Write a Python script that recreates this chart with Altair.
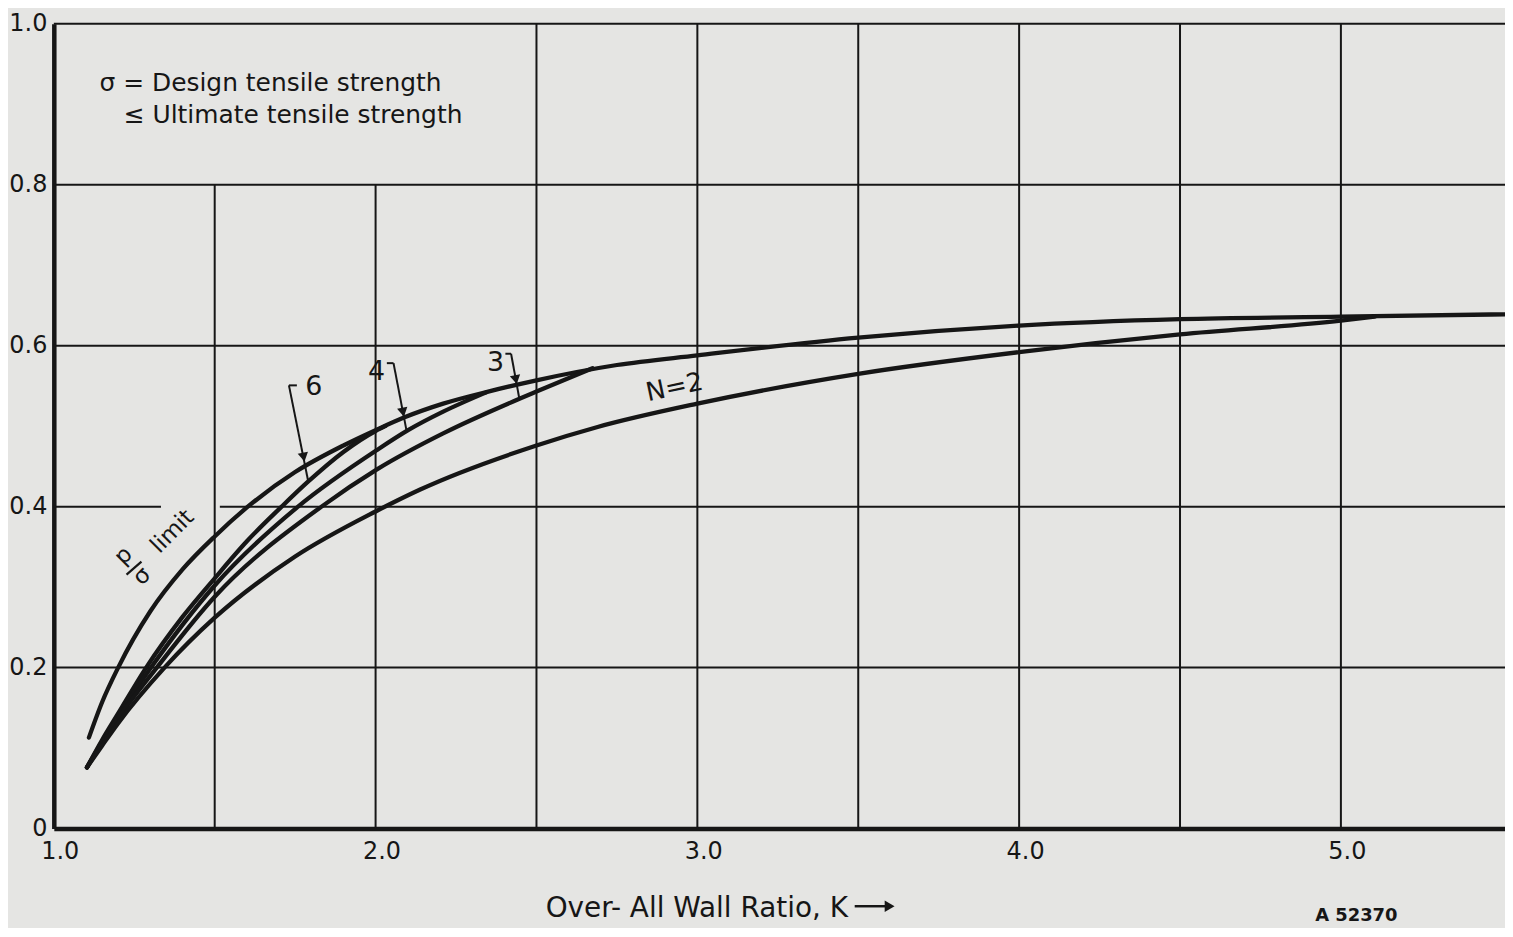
import altair as alt
import pandas as pd

# ---------------- values ----------------
# p/sigma limit curve (upper envelope)
K_LIMIT = [1.109, 1.15, 1.2, 1.3, 1.4, 1.5, 1.6, 1.75, 1.9, 2.0, 2.09, 2.21, 2.35,
           2.5, 2.75, 3.0, 3.5, 4.0, 4.5, 5.0, 5.51]
P_LIMIT = [0.113, 0.157, 0.200, 0.270, 0.322, 0.363, 0.399, 0.443, 0.476, 0.495, 0.511,
           0.528, 0.543, 0.557, 0.576, 0.588, 0.610, 0.625, 0.633, 0.636, 0.639]

# N = 6
K_N6 = [1.103, 1.15, 1.2, 1.287, 1.4, 1.5, 1.6, 1.708, 1.79, 1.9, 2.0, 2.03]
P_N6 = [0.076, 0.110, 0.143, 0.200, 0.263, 0.311, 0.357, 0.400, 0.431, 0.468, 0.494, 0.500]

# N = 4
K_N4 = [1.103, 1.15, 1.2, 1.302, 1.5, 1.759, 2.003, 2.101, 2.21, 2.344]
P_N4 = [0.076, 0.108, 0.140, 0.200, 0.302, 0.400, 0.470, 0.495, 0.518, 0.542]

# N = 3
K_N3 = [1.103, 1.15, 1.2, 1.32, 1.5, 1.832, 2.003, 2.21, 2.447, 2.5, 2.674]
P_N3 = [0.076, 0.106, 0.137, 0.200, 0.288, 0.400, 0.446, 0.491, 0.534, 0.543, 0.572]

# N = 2
K_N2 = [1.103, 1.15, 1.2, 1.344, 1.5, 1.75, 2.0, 2.137, 2.5, 2.69, 3.0, 3.5, 4.0,
        4.5, 5.0, 5.105]
P_N2 = [0.076, 0.103, 0.131, 0.200, 0.262, 0.338, 0.394, 0.421, 0.476, 0.499, 0.528,
        0.565, 0.592, 0.614, 0.631, 0.636]

# tick values
X_TICKS = [1, 2, 3, 4, 5]
Y_TICKS = [0, 0.2, 0.4, 0.6, 0.8, 1.0]

# grid: vertical lines (K) with their top end, horizontal segments (P, from, to)
GRID_K = [1.5, 2.0, 2.5, 3.0, 3.5, 4.0, 4.5, 5.0]
GRID_K_TOP = [0.8, 0.8, 1.0, 1.0, 1.0, 1.0, 1.0, 1.0]
GRID_P = [0.2, 0.4, 0.4, 0.6, 0.8, 1.0]
GRID_P_FROM = [1.0, 1.0, 1.516, 1.0, 1.0, 1.0]
GRID_P_TO = [5.51, 1.333, 5.51, 5.51, 5.51, 5.51]

# curve labels
CURVE_LABELS = ["6", "4", "3"]
CURVE_LABEL_K = [1.808, 2.003, 2.373]
CURVE_LABEL_P = [0.5486, 0.567, 0.5786]
N2_LABEL = ["N=2"]
N2_LABEL_K = [2.929]
N2_LABEL_P = [0.548]

# leader arrows for 6, 4, 3: shaft (top -> bottom), stub end, arrowhead centre
ARROW_K0 = [1.7307, 2.0557, 2.4211]
ARROW_P0 = [0.5507, 0.5783, 0.5900]
ARROW_K1 = [1.7904, 2.0969, 2.4467]
ARROW_P1 = [0.4319, 0.4929, 0.5343]
STUB_K = [1.7554, 2.0350, 2.4034]
HEAD_K = [1.7765, 2.0854, 2.4359]
HEAD_P = [0.4615, 0.5173, 0.5579]

# "p/sigma limit" label
PS_TEXT = ["p", "σ", "limit"]
PS_K = [1.2167, 1.2740, 1.3684]
PS_P = [0.3391, 0.3137, 0.3692]
PS_BAR_K = [1.2260, 1.2724]
PS_BAR_P = [0.3156, 0.3317]

# note block
NOTE_TEXT = ["σ = Design tensile strength", "≤ Ultimate tensile strength"]
NOTE_K = [1.142, 1.217]
NOTE_P = [0.9167, 0.8766]

# axis title and drawing number
TITLE_TEXT = ["Over- All Wall Ratio, K"]
TITLE_K = [2.5285]
TITLE_P = [-0.1101]
TITLE_ARROW_K = [3.489, 3.585]
TITLE_ARROW_HEAD_K = [3.5975]
TITLE_ARROW_P = [-0.0965]
DRAWING_NO = ["A 52370"]
DRAWING_NO_K = [5.048]
DRAWING_NO_P = [-0.1150]

# ---------------- styling ----------------
FONT = "DejaVu Sans"
INK = "#161616"
PAPER = "#e5e5e3"
X_DOMAIN = [1.0, 5.51]
Y_DOMAIN = [0.0, 1.0]

xs = alt.Scale(domain=X_DOMAIN, nice=False, zero=False)
ys = alt.Scale(domain=Y_DOMAIN, nice=False, zero=False)

x_axis = alt.Axis(values=X_TICKS, format=".1f", title=None, grid=False, ticks=False,
                  domain=True, domainWidth=4.5, domainColor=INK, labelFont=FONT,
                  labelFontSize=24, labelColor=INK, labelPadding=11, labelOffset=6,
                  labelFlush=False)
y_axis = alt.Axis(values=Y_TICKS,
                  labelExpr="datum.value == 0 ? '0' : format(datum.value, '.1f')",
                  title=None, grid=False, ticks=False, domain=True, domainWidth=4.5,
                  domainColor=INK, labelFont=FONT, labelFontSize=24, labelColor=INK,
                  labelPadding=7, labelFlush=False)


def xq(field):
    return alt.X(field, type="quantitative", scale=xs, axis=x_axis)


def yq(field):
    return alt.Y(field, type="quantitative", scale=ys, axis=y_axis)


# ---------------- tables ----------------
rows = []
for name, ks, ps in [("limit", K_LIMIT, P_LIMIT), ("6", K_N6, P_N6), ("4", K_N4, P_N4),
                     ("3", K_N3, P_N3), ("2", K_N2, P_N2)]:
    for i, (k, p) in enumerate(zip(ks, ps)):
        rows.append({"curve": name, "i": i, "K": k, "P": p})
curve_df = pd.DataFrame(rows)

vgrid_df = pd.DataFrame({"K": GRID_K, "top": GRID_K_TOP, "bottom": [0.0] * len(GRID_K)})
hgrid_df = pd.DataFrame({"P": GRID_P, "k0": GRID_P_FROM, "k1": GRID_P_TO})

vgrid = alt.Chart(vgrid_df).mark_rule(color=INK, strokeWidth=2).encode(
    x=xq("K"), y=yq("bottom"), y2="top:Q")
hgrid = alt.Chart(hgrid_df).mark_rule(color=INK, strokeWidth=2).encode(
    y=yq("P"), x=xq("k0"), x2="k1:Q")

curves = alt.Chart(curve_df).mark_line(
    color=INK, strokeWidth=4.3, interpolate="monotone", strokeCap="round",
    strokeJoin="round").encode(
    x=xq("K"), y=yq("P"), detail="curve:N", order=alt.Order("i:Q"))

# curve labels
lab_df = pd.DataFrame({"t": CURVE_LABELS, "K": CURVE_LABEL_K, "P": CURVE_LABEL_P})
labels = alt.Chart(lab_df).mark_text(font=FONT, fontSize=27, color=INK, align="center",
                                     baseline="middle").encode(
    x=xq("K"), y=yq("P"), text="t:N")
n2_df = pd.DataFrame({"t": N2_LABEL, "K": N2_LABEL_K, "P": N2_LABEL_P})
n2 = alt.Chart(n2_df).mark_text(font=FONT, fontSize=26, color=INK, align="center",
                                baseline="middle", angle=348).encode(
    x=xq("K"), y=yq("P"), text="t:N")

arrow_df = pd.DataFrame({"k0": ARROW_K0, "p0": ARROW_P0, "k1": ARROW_K1, "p1": ARROW_P1,
                         "ks": STUB_K})
shafts = alt.Chart(arrow_df).mark_rule(color=INK, strokeWidth=2).encode(
    x=xq("k0"), y=yq("p0"), x2="k1:Q", y2="p1:Q")
stubs = alt.Chart(arrow_df).mark_rule(color=INK, strokeWidth=2).encode(
    x=xq("k0"), y=yq("p0"), x2="ks:Q")
head_df = pd.DataFrame({"K": HEAD_K, "P": HEAD_P})
heads = alt.Chart(head_df).mark_point(
    shape="triangle-down", filled=True, size=110, color=INK, opacity=1,
    angle=349).encode(x=xq("K"), y=yq("P"))

# p / sigma limit
ps_df = pd.DataFrame({"t": PS_TEXT, "K": PS_K, "P": PS_P})
ps = alt.Chart(ps_df).mark_text(font=FONT, fontSize=23, color=INK, align="center",
                                baseline="middle", angle=315).encode(
    x=xq("K"), y=yq("P"), text="t:N")
bar_df = pd.DataFrame({"k0": [PS_BAR_K[0]], "k1": [PS_BAR_K[1]],
                       "p0": [PS_BAR_P[0]], "p1": [PS_BAR_P[1]]})
ps_bar = alt.Chart(bar_df).mark_rule(color=INK, strokeWidth=2.2).encode(
    x=xq("k0"), y=yq("p0"), x2="k1:Q", y2="p1:Q")

# note block
note_df = pd.DataFrame({"t": NOTE_TEXT, "K": NOTE_K, "P": NOTE_P})
note = alt.Chart(note_df).mark_text(font=FONT, fontSize=25, color=INK, align="left",
                                    baseline="alphabetic").encode(
    x=xq("K"), y=yq("P"), text="t:N")

# axis title with arrow
title_df = pd.DataFrame({"t": TITLE_TEXT, "K": TITLE_K, "P": TITLE_P})
title = alt.Chart(title_df).mark_text(font=FONT, fontSize=28, color=INK, align="left",
                                      baseline="alphabetic").encode(
    x=xq("K"), y=yq("P"), text="t:N")
tarrow_df = pd.DataFrame({"k0": [TITLE_ARROW_K[0]], "k1": [TITLE_ARROW_K[1]],
                          "P": TITLE_ARROW_P})
tarrow = alt.Chart(tarrow_df).mark_rule(color=INK, strokeWidth=2.5).encode(
    x=xq("k0"), x2="k1:Q", y=yq("P"))
thead_df = pd.DataFrame({"K": TITLE_ARROW_HEAD_K, "P": TITLE_ARROW_P})
thead = alt.Chart(thead_df).mark_point(
    shape="triangle-right", filled=True, size=130, color=INK, opacity=1).encode(
    x=xq("K"), y=yq("P"))

dn_df = pd.DataFrame({"t": DRAWING_NO, "K": DRAWING_NO_K, "P": DRAWING_NO_P})
dn = alt.Chart(dn_df).mark_text(font=FONT, fontSize=18, fontWeight="bold", color=INK,
                                align="center", baseline="alphabetic").encode(
    x=xq("K"), y=yq("P"), text="t:N")

chart = alt.layer(
    vgrid, hgrid, curves, labels, n2, shafts, stubs, heads, ps, ps_bar, note, title,
    tarrow, thead, dn
).properties(
    width=1457, height=808, background=PAPER,
    padding={"left": 46, "top": 14, "right": 0, "bottom": 98},
    autosize=alt.AutoSizeParams(type="none"),
).configure_view(strokeWidth=0)

chart.save("out.html", embed_options={"renderer": "svg", "actions": False})
